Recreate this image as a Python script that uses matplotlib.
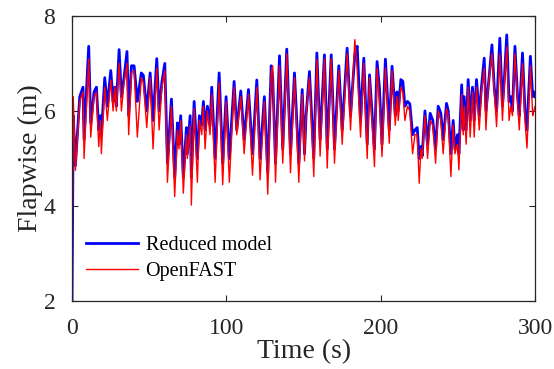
"""Flapwise deflection: reduced model vs OpenFAST."""
import numpy as np
import matplotlib
matplotlib.use("Agg")
import matplotlib.pyplot as plt

# local extrema (time in s, flapwise in m)
time_s = [
    0.0, 0.8, 2.2, 5.0, 7.1, 7.8, 10.8, 12.1, 14.3, 15.8, 17.3, 18.4, 19.0,
    21.2, 22.9, 25.1, 26.6, 27.7, 28.7, 30.5, 32.0, 33.7, 35.6, 36.7, 38.5,
    40.2, 42.3, 44.9, 46.2, 48.4, 50.6, 52.5, 54.9, 56.4, 58.2, 60.1, 61.8,
    64.4, 66.5, 68.3, 69.3, 70.4, 72.1, 74.1, 74.7, 76.5, 77.3, 79.1, 81.2,
    82.5, 84.0, 85.1, 86.2, 87.7, 89.4, 90.5, 92.7, 95.3, 97.6, 99.8, 101.9,
    105.0, 106.7, 109.3, 111.5, 114.3, 116.9, 119.7, 121.8, 124.6, 126.8,
    129.0, 130.0, 131.8, 134.4, 136.5, 139.1, 141.5, 144.1, 146.9, 149.1,
    150.6, 151.6, 153.8, 156.6, 158.6, 160.7, 163.5, 165.3, 167.9, 170.0,
    172.8, 175.0, 178.2, 180.4, 183.2, 184.7, 186.9, 189.0, 191.2, 192.7,
    195.9, 197.6, 199.1, 200.8, 203.0, 205.5, 207.3, 209.4, 210.5, 211.3,
    213.0, 214.3, 215.6, 217.3, 218.8, 220.6, 222.1, 223.6, 224.9, 226.0,
    226.8, 228.6, 230.3, 232.0, 233.7, 235.5, 237.2, 238.9, 240.4, 242.6,
    243.7, 245.4, 246.9, 248.0, 249.7, 250.6, 252.4, 253.4, 254.0, 255.3,
    256.6, 257.9, 259.4, 260.5, 262.0, 263.8, 265.2, 267.0, 268.1, 269.6,
    272.0, 273.5, 275.0, 277.1, 278.8, 279.9, 281.6, 283.1, 284.2, 285.3,
    286.9, 288.6, 289.7, 291.8, 293.4, 294.7, 296.9, 298.4, 299.1, 300.0,
]

reduced_model = [
    2.0, 5.9, 4.85, 6.3, 6.5, 5.4, 7.36, 5.75, 6.4, 6.5, 5.6, 5.9, 5.5,
    6.7, 6.1, 6.85, 6.2, 6.5, 6.1, 7.29, 6.3, 6.7, 7.25, 5.9, 6.95,
    6.95, 6.2, 6.8, 6.75, 6.0, 6.8, 5.8, 7.1, 6.0, 6.6, 7.0, 4.9,
    6.25, 4.6, 5.75, 5.3, 5.9, 4.6, 5.65, 5.1, 5.9, 4.6, 6.2, 5.0,
    5.9, 5.7, 6.2, 5.6, 6.1, 5.7, 6.5, 5.0, 6.8, 4.9, 6.3, 5.0,
    6.62, 5.6, 6.42, 5.4, 6.45, 5.1, 6.65, 5.0, 6.3, 4.7,
    6.95, 6.7, 4.9, 7.16, 5.2, 7.3, 5.1, 6.8, 4.9, 6.45,
    5.1, 5.9, 6.83, 5.0, 7.22, 5.4, 7.18, 5.2, 7.18, 5.2,
    6.95, 5.6, 7.32, 5.9, 7.2, 7.36, 5.8, 7.11, 5.3, 6.76,
    5.2, 7.04, 6.5, 5.3, 7.09, 5.6, 6.94, 5.9, 6.4, 6.0,
    6.66, 6.62, 6.1, 6.2, 6.15, 5.5, 5.6, 5.65, 5.0, 5.25,
    5.05, 6.0, 5.3, 5.95, 5.8, 5.2, 6.1, 5.95, 5.4, 6.16,
    6.0, 5.1, 5.8, 5.2, 5.5, 5.1, 6.55, 5.6, 6.3, 5.6,
    6.66, 5.8, 6.5, 5.8, 6.66, 5.9, 6.5, 7.11, 6.0, 6.5,
    7.39, 6.5, 6.0, 7.53, 6.1, 6.6, 7.6, 6.2, 6.3, 6.0,
    7.36, 6.3, 5.9, 7.22, 6.0, 5.6, 7.15, 6.3, 6.4, 6.3,
]

openfast = [
    2.0, 6.3, 4.75, 6.2, 6.4, 5.0, 7.1, 5.45, 6.3, 6.4, 5.25, 5.8, 5.1,
    6.5, 5.8, 6.65, 6.0, 6.5, 6.0, 7.0, 6.0, 6.6, 7.0, 5.5, 6.8,
    6.85, 5.45, 6.7, 6.6, 5.65, 6.7, 5.2, 6.9, 5.6, 6.5, 6.85, 4.5,
    6.1, 4.2, 5.6, 5.2, 5.8, 4.27, 5.5, 5.0, 5.7, 4.02, 6.05, 4.5,
    5.8, 5.5, 6.1, 5.2, 6.0, 5.5, 6.35, 4.5, 6.6, 4.45, 6.2, 4.5,
    6.5, 5.5, 6.3, 5.1, 6.35, 4.65, 6.5, 4.55, 6.2, 4.25,
    6.8, 6.95, 4.5, 6.95, 4.9, 7.2, 4.7, 6.7, 4.5, 6.35,
    4.95, 5.9, 6.7, 4.62, 7.08, 5.05, 7.1, 4.8, 7.1, 4.9,
    6.85, 5.3, 7.2, 5.6, 7.5, 6.9, 5.45, 7.0, 5.0, 6.7,
    4.83, 6.9, 6.2, 5.04, 6.9, 5.32, 6.85, 5.7, 6.3, 5.8,
    6.5, 6.4, 5.8, 6.1, 6.0, 5.1, 5.5, 5.5, 4.48, 5.2,
    5.0, 5.9, 5.0, 5.8, 5.7, 4.9, 6.0, 5.8, 5.1, 6.05,
    5.9, 4.62, 5.7, 5.1, 5.3, 4.76, 6.35, 5.5, 6.1, 5.3,
    6.5, 5.45, 6.4, 5.45, 6.5, 5.6, 6.4, 6.9, 5.6, 6.5,
    7.2, 6.4, 5.67, 7.2, 5.8, 6.5, 7.35, 5.8, 6.1, 5.9,
    7.2, 6.2, 5.6, 7.0, 5.8, 5.22, 6.95, 5.9, 6.0, 6.1,
]

x_ticks = [0, 100, 200, 300]
y_ticks = [2, 4, 6, 8]

plt.rcParams["font.family"] = ["Liberation Serif", "DejaVu Serif"]

fig = plt.figure(figsize=(5.54, 3.69), dpi=100)
ax = fig.add_axes([0.130, 0.184, 0.836, 0.773])

ax.plot(time_s, reduced_model, color="#0000ff", lw=2.0, label="Reduced model")
ax.plot(time_s, openfast, color="#ff0000", lw=1.0, label="OpenFAST")

ax.set_xlim(0, 300)
ax.set_ylim(2, 8)
ax.set_xticks(x_ticks)
ax.set_yticks(y_ticks)
ax.tick_params(direction="in", length=4, width=0.8, top=True, right=True,
               labelsize=17, colors="#262626", pad=12)
for side in ax.spines.values():
    side.set_color("#262626")
    side.set_linewidth(0.9)

ax.set_xlabel("Time (s)", fontsize=20, color="#262626", labelpad=0)
ax.set_ylabel("Flapwise (m)", fontsize=20, color="#262626", labelpad=0)

ax.legend(loc="lower left", bbox_to_anchor=(0.0, 0.02), frameon=False,
          fontsize=14.5, handlelength=2.6, handletextpad=0.35,
          labelspacing=0.35, borderaxespad=0.3)

fig.savefig("out.png", dpi=100)
